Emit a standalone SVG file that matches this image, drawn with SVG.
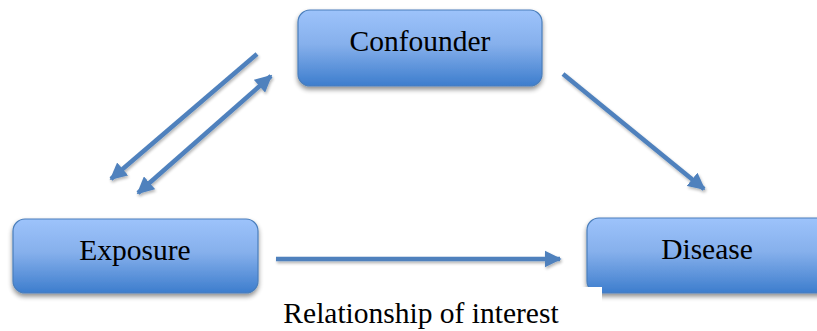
<svg xmlns="http://www.w3.org/2000/svg" width="817" height="331" viewBox="0 0 817 331">
<defs>
<linearGradient id="g" x1="0" y1="0" x2="0" y2="1">
<stop offset="0" stop-color="#9dc3fb"/>
<stop offset="0.45" stop-color="#86b0ec"/>
<stop offset="1" stop-color="#3d7dcd"/>
</linearGradient>
<filter id="sh" x="-10%" y="-20%" width="120%" height="150%">
<feGaussianBlur in="SourceAlpha" stdDeviation="2.5"/>
<feOffset dx="0" dy="3" result="b"/>
<feComponentTransfer><feFuncA type="linear" slope="0.45"/></feComponentTransfer>
<feMerge><feMergeNode/><feMergeNode in="SourceGraphic"/></feMerge>
</filter>
<filter id="ash" x="-20%" y="-20%" width="140%" height="140%">
<feGaussianBlur in="SourceAlpha" stdDeviation="1.5"/>
<feOffset dx="1" dy="2"/>
<feComponentTransfer><feFuncA type="linear" slope="0.3"/></feComponentTransfer>
<feMerge><feMergeNode/><feMergeNode in="SourceGraphic"/></feMerge>
</filter>
<marker id="ah" viewBox="0 0 10 10" refX="9" refY="5" markerWidth="3.8" markerHeight="3.8" orient="auto-start-reverse" markerUnits="strokeWidth">
<path d="M0,0 L10,5 L0,10 z" fill="#4f81bd"/>
</marker>
<style>
.box{fill:url(#g);stroke:#4a7ebb;stroke-width:1.2;filter:url(#sh)}
.lbl{fill:#000;text-anchor:middle;font-family:"Liberation Serif","Times New Roman",serif;font-size:29.5px}
.c{stroke:#4f81bd;stroke-width:4.5;fill:none;marker-end:url(#ah)}
</style>
</defs>
<rect width="817" height="331" fill="#fff"/>
<g id="confounder">
<rect class="box" x="298" y="10" width="244" height="76" rx="12"/>
<text class="lbl" x="420" y="51">Confounder</text>
</g>
<g id="exposure">
<rect class="box" x="13" y="219" width="245" height="74" rx="12"/>
<text class="lbl" x="135" y="260">Exposure</text>
</g>
<g id="disease">
<rect class="box" x="587" y="218" width="250" height="75" rx="12"/>
<text class="lbl" x="707" y="259">Disease</text>
</g>
<g id="connectors" filter="url(#ash)">
<line class="c" x1="257" y1="54" x2="111" y2="179"/>
<line class="c" x1="138" y1="193" x2="271" y2="76" style="marker-start:url(#ah)"/>
<line class="c" x1="563" y1="74" x2="704" y2="189"/>
<line class="c" x1="276" y1="259" x2="560" y2="259"/>
</g>
<g id="label">
<rect x="540" y="287" width="62" height="44" fill="#fff"/>
<text class="lbl" x="421" y="323">Relationship of interest</text>
</g>
</svg>
